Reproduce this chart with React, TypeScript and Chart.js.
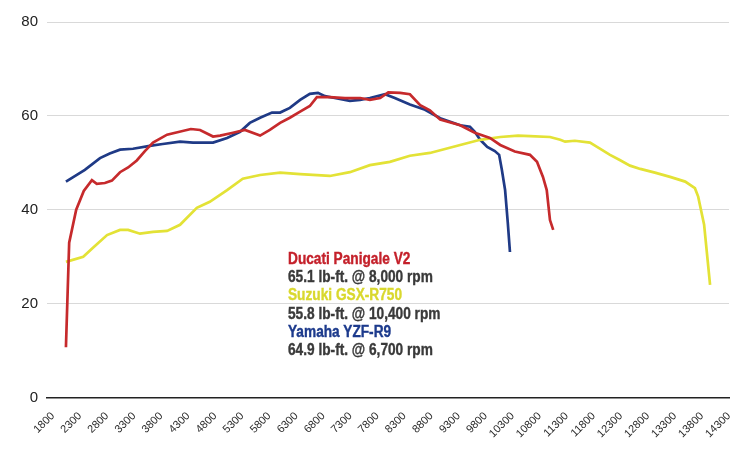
import { useEffect, useRef } from "react"
import { Chart, registerables, type ChartConfiguration } from "chart.js"

Chart.register(...registerables)

// rpm tick labels along the bottom
const rpmTicks = [
  1800, 2300, 2800, 3300, 3800, 4300, 4800, 5300, 5800, 6300, 6800, 7300, 7800,
  8300, 8800, 9300, 9800, 10300, 10800, 11300, 11800, 12300, 12800, 13300, 13800, 14300,
]
const torqueTicks = [0, 20, 40, 60, 80]

// Ducati Panigale V2 (lb-ft.)
const ducatiRpm = [
  2040, 2100, 2230, 2370, 2520, 2610, 2760, 2890, 3040, 3190, 3350, 3500, 3650, 3910,
  4350, 4520, 4760, 4890, 5130, 5350, 5630, 5810, 6000, 6180, 6370, 6550, 6680, 6920,
  7200, 7480, 7660, 7850, 8000, 8220, 8400, 8590, 8770, 8960, 9330, 9600, 9880, 10070,
  10340, 10620, 10750, 10860, 10930, 10990, 11050,
]
const ducatiTorque = [
  10.7, 33, 40, 44, 46.3, 45.5, 45.7, 46.2, 48, 49, 50.5, 52.5, 54.3, 56,
  57.2, 57, 55.6, 55.8, 56.4, 57, 55.8, 57, 58.5, 59.6, 60.9, 62.1, 64, 64,
  63.8, 63.8, 63.4, 63.8, 65, 64.9, 64.6, 62.3, 61.2, 59.2, 58, 56.4, 55.3, 53.8,
  52.4, 51.7, 50.2, 47, 44.2, 37.8, 35.7,
]

// Suzuki GSX-R750
const suzukiRpm = [
  2040, 2360, 2540, 2800, 3040, 3190, 3410, 3650, 3910, 4150, 4460, 4700, 5020, 5310,
  5630, 6000, 6370, 6920, 7290, 7660, 8030, 8400, 8770, 9330, 9700, 10070, 10400, 10620,
  10990, 11180, 11270, 11450, 11730, 11860, 12100, 12280, 12470, 12660, 12930, 13210, 13490, 13670,
  13730, 13840, 13950,
]
const suzukiTorque = [
  28.9, 30, 31.9, 34.6, 35.7, 35.7, 34.9, 35.3, 35.5, 36.8, 40.4, 41.7, 44.2, 46.6,
  47.4, 47.9, 47.6, 47.2, 48, 49.5, 50.2, 51.5, 52.1, 53.8, 54.9, 55.5, 55.8, 55.7,
  55.5, 54.9, 54.5, 54.7, 54.3, 53.4, 51.7, 50.6, 49.4, 48.7, 47.9, 47, 46, 44.6,
  42.8, 36.8, 24,
]

// Yamaha YZF-R9
const yamahaRpm = [
  2040, 2390, 2670, 2850, 3040, 3280, 3590, 3830, 4150, 4390, 4760, 5020, 5260, 5440,
  5630, 5850, 6000, 6180, 6370, 6550, 6700, 6830, 7010, 7290, 7480, 7660, 7940, 8120,
  8400, 8680, 8960, 9330, 9510, 9600, 9700, 9830, 9970, 10050, 10100, 10160, 10210, 10250,
]
const yamahaTorque = [
  46, 48.5, 51, 52, 52.8, 53, 53.6, 54, 54.5, 54.3, 54.3, 55.3, 56.6, 58.5,
  59.6, 60.7, 60.7, 61.7, 63.4, 64.7, 64.9, 64.2, 63.8, 63.2, 63.4, 63.8, 64.6, 63.8,
  62.4, 61.3, 59.5, 58, 57.7, 56.6, 54.9, 53.4, 52.5, 51.7, 48.5, 44.2, 37.2, 31,
]

const RED = "#c62a2c"
const YELLOW = "#e3e236"
const BLUE = "#1f3a86"

const toPoints = (xs: number[], ys: number[]) => xs.map((x, i) => ({ x, y: ys[i] }))

export default function App() {
  const canvasRef = useRef<HTMLCanvasElement>(null)

  useEffect(() => {
    if (!canvasRef.current) return

    const line = (label: string, xs: number[], ys: number[], color: string) => ({
      label,
      data: toPoints(xs, ys),
      borderColor: color,
      backgroundColor: color,
      borderWidth: 2.7,
      pointRadius: 0,
      tension: 0,
    })

    const config: ChartConfiguration<"line"> = {
      type: "line",
      data: {
        datasets: [
          line("Ducati Panigale V2", ducatiRpm, ducatiTorque, RED),
          line("Suzuki GSX-R750", suzukiRpm, suzukiTorque, YELLOW),
          line("Yamaha YZF-R9", yamahaRpm, yamahaTorque, BLUE),
        ],
      },
      options: {
        animation: false,
        responsive: true,
        maintainAspectRatio: false,
        layout: { padding: { top: 22, right: 27, left: 0, bottom: 0 } },
        plugins: {
          legend: { display: false },
          tooltip: { enabled: false },
        },
        scales: {
          x: {
            type: "linear",
            min: 1690,
            max: 14300,
            afterBuildTicks: (axis) => {
              axis.ticks = rpmTicks.map((value) => ({ value }))
            },
            afterFit: (axis) => {
              axis.height = 72.5
            },
            grid: { display: false },
            border: { color: "#222", width: 1.5 },
            ticks: {
              autoSkip: false,
              minRotation: 45,
              maxRotation: 45,
              padding: 4,
              color: "#2a2a2a",
              font: { family: "'Liberation Sans', Arial, sans-serif", size: 11 },
              callback: (value) => String(value),
            },
          },
          y: {
            min: 0,
            max: 80,
            afterBuildTicks: (axis) => {
              axis.ticks = torqueTicks.map((value) => ({ value }))
            },
            afterFit: (axis) => {
              axis.width = 47
            },
            border: { display: false },
            grid: { color: "#d9d9d9", lineWidth: 1, drawTicks: false },
            ticks: {
              padding: 9,
              color: "#222",
              font: { family: "'Liberation Sans', Arial, sans-serif", size: 15 },
            },
          },
        },
      },
    }

    const chart = new Chart(canvasRef.current, config)
    return () => chart.destroy()
  }, [])

  const textStyle = { margin: 0, whiteSpace: "nowrap" as const }

  return (
    <div style={{ position: "absolute", left: 0, top: 0, width: 756, height: 470, background: "#fff" }}>
      <canvas ref={canvasRef} />
      {/* condensed heavy caption, Arial bold squeezed to look like a narrow face */}
      <div
        style={{
          position: "absolute",
          left: 288,
          top: 250,
          transform: "scaleX(0.815)",
          transformOrigin: "0 0",
          fontFamily: "'Liberation Sans', Arial, sans-serif",
          fontWeight: 700,
          fontSize: 16.8,
          lineHeight: "18.2px",
          color: "#3a3a3a",
          WebkitTextStroke: "0.4px currentColor",
        }}
      >
        <div style={{ ...textStyle, color: "#c4202a" }}>Ducati Panigale V2</div>
        <div style={textStyle}>65.1 lb-ft. @ 8,000 rpm</div>
        <div style={{ ...textStyle, color: "#d9d82e" }}>Suzuki GSX-R750</div>
        <div style={textStyle}>55.8 lb-ft. @ 10,400 rpm</div>
        <div style={{ ...textStyle, color: "#1c3a8c" }}>Yamaha YZF-R9</div>
        <div style={textStyle}>64.9 lb-ft. @ 6,700 rpm</div>
      </div>
    </div>
  )
}
